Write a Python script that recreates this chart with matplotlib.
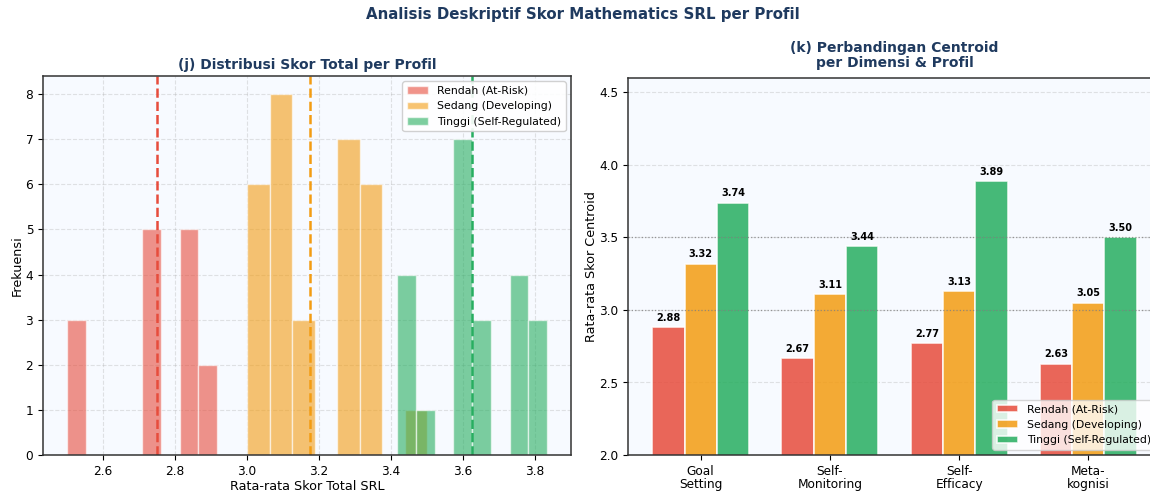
import numpy as np
import matplotlib
matplotlib.use("Agg")
import matplotlib.pyplot as plt

# skor rata-rata per profil (nilai unik dan jumlah siswa)
rendah_skor = [2.5, 2.75, 2.8333, 2.9167]
rendah_n = [3, 5, 5, 2]
sedang_skor = [3.0, 3.0833, 3.1667, 3.25, 3.3333, 3.5]
sedang_n = [6, 8, 3, 7, 6, 1]
tinggi_skor = [3.4167, 3.5, 3.5833, 3.6667, 3.75, 3.8333]
tinggi_n = [4, 1, 7, 3, 4, 3]

profil = ['Rendah (At-Risk)', 'Sedang (Developing)', 'Tinggi (Self-Regulated)']
warna = ['#e74c3c', '#f39c12', '#27ae60']

dimensi = ['Goal\nSetting', 'Self-\nMonitoring', 'Self-\nEfficacy', 'Meta-\nkognisi']
centroid_rendah = [2.88, 2.67, 2.77, 2.63]
centroid_sedang = [3.32, 3.11, 3.13, 3.05]
centroid_tinggi = [3.74, 3.44, 3.89, 3.50]

judul_warna = '#1f3a5f'
bg = '#f7faff'

fig = plt.figure(figsize=(11.5, 4.92), dpi=100)
W, H = 1150, 492
ax1 = fig.add_axes([43 / W, (H - 455) / H, (571 - 43) / W, (455 - 76) / H])
ax2 = fig.add_axes([628 / W, (H - 455) / H, (1161 - 628) / W, (455 - 78) / H])

# (j) histogram
data = [np.repeat(rendah_skor, rendah_n),
        np.repeat(sedang_skor, sedang_n),
        np.repeat(tinggi_skor, tinggi_n)]
ax1.set_facecolor(bg)
for d, lab, c in zip(data, profil, warna):
    ax1.hist(d, bins=8, color=c, alpha=0.6, edgecolor='white', linewidth=1, label=lab)
for d, c in zip(data, warna):
    ax1.axvline(d.mean(), color=c, linestyle='--', linewidth=1.8)
ax1.set_xlabel('Rata-rata Skor Total SRL', fontsize=9.2, labelpad=2)
ax1.set_ylabel('Frekuensi', fontsize=9.2, labelpad=1)
ax1.set_title('(j) Distribusi Skor Total per Profil', fontsize=10, fontweight='bold',
              color=judul_warna, pad=5)
ax1.legend(loc='upper right', fontsize=7.8, framealpha=0.9)
ax1.grid(True, linestyle='--', alpha=0.35)
ax1.set_axisbelow(True)
ax1.tick_params(labelsize=8.7)

# (k) centroid
x = np.arange(len(dimensi))
w = 0.25
ax2.set_facecolor(bg)
for i, (vals, lab, c) in enumerate(zip([centroid_rendah, centroid_sedang, centroid_tinggi], profil, warna)):
    bars = ax2.bar(x + (i - 1) * w, vals, w, color=c, alpha=0.85, edgecolor='white',
                   linewidth=1.2, label=lab)
    for b, v in zip(bars, vals):
        ax2.text(b.get_x() + b.get_width() / 2, v + 0.03, f'{v:.2f}', ha='center',
                 va='bottom', fontsize=7, fontweight='bold')
ax2.axhline(3.0, color='gray', linestyle=':', linewidth=0.9, alpha=0.8)
ax2.axhline(3.5, color='gray', linestyle=':', linewidth=0.9, alpha=0.8)
ax2.set_xticks(x)
ax2.set_xticklabels(dimensi, fontsize=8.7, linespacing=1.05)
ax2.set_ylim(2.0, 4.6)
ax2.set_yticks([2.0, 2.5, 3.0, 3.5, 4.0, 4.5])
ax2.set_ylabel('Rata-rata Skor Centroid', fontsize=9.2, labelpad=1)
ax2.set_title('(k) Perbandingan Centroid\nper Dimensi & Profil', fontsize=10,
              fontweight='bold', color=judul_warna, pad=8, linespacing=1.1)
ax2.legend(loc='lower right', fontsize=7.8, framealpha=0.8)
ax2.grid(True, axis='y', linestyle='--', alpha=0.35)
ax2.set_axisbelow(True)
ax2.tick_params(labelsize=8.7)

for ax in (ax1, ax2):
    for s in ax.spines.values():
        s.set_color('#333333')
        s.set_linewidth(1.1)

fig.suptitle('Analisis Deskriptif Skor Mathematics SRL per Profil', fontsize=10.8,
             fontweight='bold', color=judul_warna, x=0.507, y=0.985)

fig.savefig('out.png', dpi=100)
